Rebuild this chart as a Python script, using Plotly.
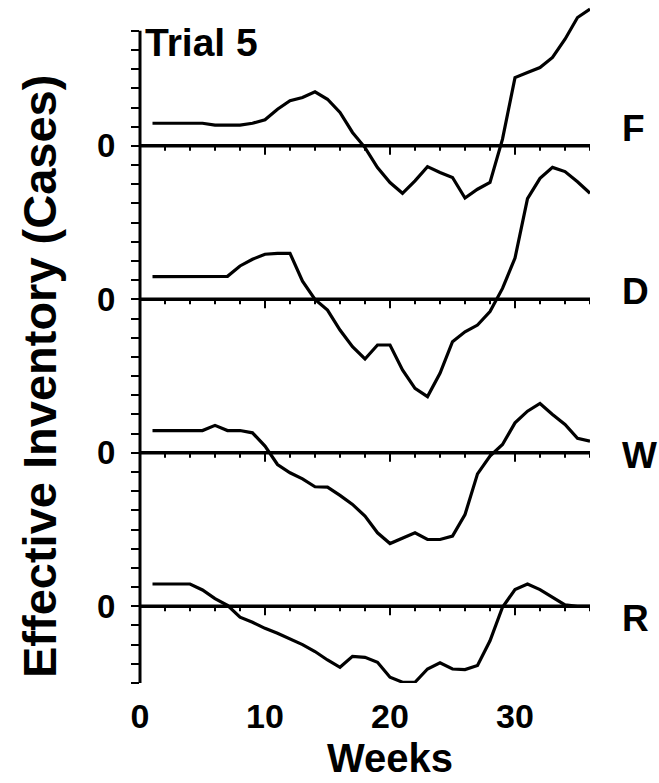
import plotly.graph_objects as go

# ---- data (values relative to each panel's own zero line, one tick = one unit) ----
weeks = list(range(1, 37))
factory = [1.18, 1.18, 1.18, 1.18, 1.18, 1.08, 1.08, 1.08, 1.18, 1.36, 1.91, 2.35,
           2.52, 2.82, 2.43, 1.74, 0.70, -0.09, -1.13, -1.91, -2.47, -1.82, -1.08, -1.39,
           -1.65, -2.72, -2.26, -1.91, 0.35, 3.56, 3.82, 4.08, 4.61, 5.56, 6.69, 7.13]
distributor = [1.18, 1.18, 1.18, 1.18, 1.18, 1.18, 1.20, 1.74, 2.09, 2.35, 2.40, 2.40,
               0.95, 0.00, -0.56, -1.60, -2.47, -3.11, -2.38, -2.38, -3.68, -4.64, -5.07, -3.86,
               -2.21, -1.69, -1.34, -0.64, 0.57, 2.15, 5.25, 6.31, 6.88, 6.66, 6.13, 5.53]
wholesaler = [1.16, 1.16, 1.16, 1.16, 1.16, 1.43, 1.16, 1.16, 1.04, 0.35, -0.61, -1.04,
              -1.36, -1.77, -1.79, -2.22, -2.69, -3.30, -4.17, -4.73, -4.43, -4.17, -4.52, -4.52,
              -4.34, -3.22, -1.10, -0.17, 0.43, 1.56, 2.17, 2.57, 2.00, 1.48, 0.75, 0.61]
retailer = [1.16, 1.16, 1.16, 1.16, 0.85, 0.40, 0.05, -0.57, -0.83, -1.15, -1.41, -1.70,
            -2.00, -2.36, -2.80, -3.18, -2.61, -2.66, -2.92, -3.70, -3.96, -3.96, -3.27, -2.95,
            -3.27, -3.30, -3.09, -1.80, -0.05, 0.87, 1.16, 0.87, 0.47, 0.07, 0.00, 0.00]
panel_names = ["F", "D", "W", "R"]
x_tick_values = [0, 10, 20, 30]
title_text = "Trial 5"
x_title = "Weeks"
y_title = "Effective Inventory (Cases)"

series = [factory, distributor, wholesaler, retailer]

# ---- layout constants ----
W, H = 659, 783
ML, MR, MT, MB = 140, 69, 2, 100
PW, PH = W - ML - MR, H - MT - MB
PANEL_STEP = 8
Y_MIN, Y_AXIS_TOP, Y_MAX = -4, 30, 31.5
X_MIN, X_MAX = 0, 36
MINOR_STEP, MAJOR_STEP = 2, 10
FONT = "Liberation Sans, Arial, Helvetica, sans-serif"


def paper_x(px):
    return (px - ML) / PW


def paper_y(py):
    return (H - MB - py) / PH


fig = go.Figure()
n = len(series)
baselines = []
for i, vals in enumerate(series):
    base = (n - 1 - i) * PANEL_STEP
    baselines.append(base)
    fig.add_trace(go.Scatter(
        x=weeks, y=[v + base for v in vals], mode="lines",
        line=dict(color="black", width=3.2), showlegend=False, hoverinfo="skip"))

# zero line of every panel, with its week ticks hanging below
shapes = []
tick_weeks = list(range(X_MIN, X_MAX + 1, MINOR_STEP))
for base in baselines:
    shapes.append(dict(type="line", xref="x", yref="y", x0=X_MIN, x1=X_MAX,
                       y0=base, y1=base, line=dict(color="black", width=3.5)))
    for t in tick_weeks:
        tl = 9 if t % MAJOR_STEP == 0 else 5
        shapes.append(dict(type="line", xref="x", yref="y", ysizemode="pixel",
                           yanchor=base, x0=t, x1=t, y0=0, y1=-tl,
                           line=dict(color="black", width=2)))
# left axis line (only up to the last tick)
shapes.append(dict(type="line", xref="paper", yref="y", x0=0, x1=0,
                   y0=Y_MIN, y1=Y_AXIS_TOP, line=dict(color="black", width=3)))

ytick_vals = list(range(Y_MIN, Y_AXIS_TOP + 1))
ytick_text = ["0" if v in baselines else "" for v in ytick_vals]

fig.update_layout(
    width=W, height=H,
    margin=dict(l=ML, r=MR, t=MT, b=MB),
    paper_bgcolor="white", plot_bgcolor="white",
    font=dict(family=FONT, color="black"),
    shapes=shapes,
    xaxis=dict(range=[X_MIN, X_MAX], showline=False, showgrid=False, zeroline=False,
               automargin=False,
               tickmode="array", tickvals=x_tick_values,
               ticktext=[str(v) for v in x_tick_values],
               ticks="outside", ticklen=3, tickcolor="rgba(0,0,0,0)",
               tickfont=dict(family=FONT, size=34, weight="bold", color="black")),
    yaxis=dict(range=[Y_MIN, Y_MAX], showline=False, showgrid=False, zeroline=False,
               automargin=False,
               tickmode="array", tickvals=ytick_vals, ticktext=ytick_text,
               ticks="outside", ticklen=8, tickwidth=2, tickcolor="black",
               ticklabelstandoff=9,
               tickfont=dict(family=FONT, size=33, weight="bold", color="black")),
)

# panel labels at right
label_py = [128, 291, 455, 618]
for name, py in zip(panel_names, label_py):
    fig.add_annotation(text=f"<b>{name}</b>", xref="paper", yref="paper",
                       x=paper_x(620), y=paper_y(py), xanchor="left", yanchor="middle",
                       showarrow=False, font=dict(family=FONT, size=37, color="black"))

fig.add_annotation(text=f"<b>{title_text}</b>", xref="paper", yref="paper",
                   x=paper_x(143), y=paper_y(42), xanchor="left", yanchor="middle",
                   showarrow=False, font=dict(family=FONT, size=39, color="black"))
fig.add_annotation(text=f"<b>{x_title}</b>", xref="paper", yref="paper",
                   x=paper_x(390), y=paper_y(782), xanchor="center", yanchor="bottom",
                   showarrow=False, font=dict(family=FONT, size=40, color="black"))
fig.add_annotation(text=f"<b>{y_title}</b>", xref="paper", yref="paper",
                   x=paper_x(39), y=paper_y(377), xanchor="center", yanchor="middle",
                   textangle=-90, showarrow=False,
                   font=dict(family=FONT, size=47, color="black"))

fig.write_html("out.html", config={"displayModeBar": False},
               post_script="document.body.style.margin='0';")
